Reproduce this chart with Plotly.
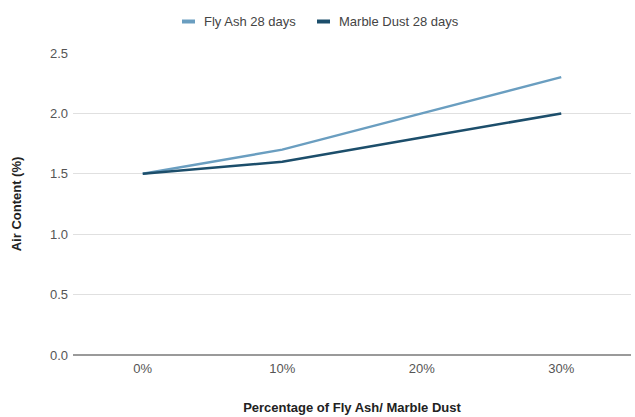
import plotly.graph_objects as go

categories = ["0%", "10%", "20%", "30%"]
fly_ash = [1.5, 1.7, 2.0, 2.3]
marble_dust = [1.5, 1.6, 1.8, 2.0]
series_names = ["Fly Ash 28 days", "Marble Dust 28 days"]
series_colors = ["#6a9ec0", "#1c4e6b"]
y_ticks = [0, 0.5, 1.0, 1.5, 2.0, 2.5]
y_tick_labels = ["0.0", "0.5", "1.0", "1.5", "2.0", "2.5"]

W, H = 635, 417
ML, MR, MT, MB = 73, 4, 53, 62
PW, PH = W - ML - MR, H - MT - MB


def px_x(p):
    return (p - ML) / PW


def px_y(p):
    return (H - MB - p) / PH


fig = go.Figure()
for name, vals, col in zip(series_names, [fly_ash, marble_dust], series_colors):
    fig.add_trace(go.Scatter(x=categories, y=vals, mode="lines", name=name,
                             line=dict(color=col, width=2.5), showlegend=False))

# manual legend (short thick swatches like the reference)
legend_sym_x = [182, 317]
legend_y = 21.5
shapes = []
annotations = []
for name, col, sx in zip(series_names, series_colors, legend_sym_x):
    shapes.append(dict(type="line", xref="paper", yref="paper",
                       x0=px_x(sx), x1=px_x(sx + 13), y0=px_y(legend_y), y1=px_y(legend_y),
                       line=dict(color=col, width=4)))
    annotations.append(dict(text=name, xref="paper", yref="paper",
                            x=px_x(sx + 20), y=px_y(legend_y), xanchor="left", yanchor="middle",
                            showarrow=False, font=dict(size=13, color="#444")))

fig.update_layout(
    width=W, height=H,
    margin=dict(l=ML, r=MR, t=MT, b=MB),
    paper_bgcolor="white", plot_bgcolor="white",
    font=dict(family="Liberation Sans, Arial, sans-serif", size=13, color="#555"),
    showlegend=False,
    shapes=shapes,
    annotations=annotations,
    xaxis=dict(type="category", range=[-0.5, 3.5], showgrid=False, ticks="",
               showline=False, zeroline=False, ticklabelstandoff=4,
               tickfont=dict(size=13, color="#555"),
               title=dict(text="<b>Percentage of Fly Ash/ Marble Dust</b>",
                          font=dict(size=13, color="#222"), standoff=27)),
    yaxis=dict(range=[0, 2.5], tickvals=y_ticks, ticktext=y_tick_labels,
               showgrid=True, gridcolor="#e0e0e0", gridwidth=1,
               zeroline=True, zerolinecolor="#9a9a9a", zerolinewidth=2,
               showline=False, ticks="", ticklabelstandoff=4,
               tickfont=dict(size=13, color="#555"),
               title=dict(text="<b>Air Content (%)</b>", font=dict(size=13, color="#222"),
                          standoff=25)),
)

fig.write_html("out.html")
